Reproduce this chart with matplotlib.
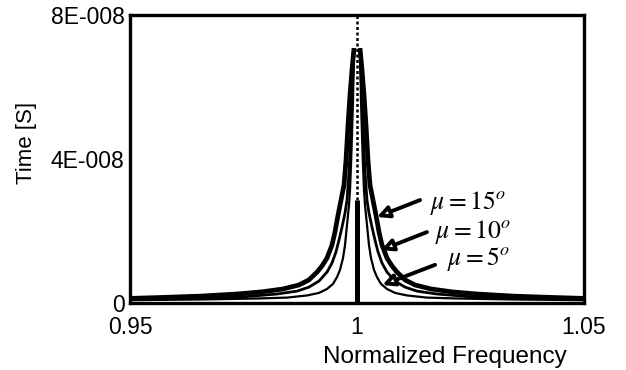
import numpy as np
import matplotlib
matplotlib.use('Agg')
import matplotlib.pyplot as plt

# offsets from f = 1 (one side, the curves are symmetric) and time values [s]
d_15 = [0.00066, 0.0011, 0.00154, 0.00198, 0.00242, 0.00286, 0.00352, 0.00418, 0.00485, 0.00551,
        0.0066, 0.0077, 0.0088, 0.0106, 0.0128, 0.0163, 0.0209, 0.0264, 0.0346, 0.044, 0.0507]
t_15 = [7.08e-8, 6.47e-8, 5.78e-8, 4.94e-8, 3.97e-8, 3.28e-8, 2.86e-8, 2.44e-8, 1.97e-8, 1.61e-8,
        1.25e-8, 1.03e-8, 0.86e-8, 0.64e-8, 0.50e-8, 0.39e-8, 0.31e-8, 0.25e-8, 0.19e-8, 0.15e-8, 0.125e-8]

d_10 = [0.00066, 0.00088, 0.0011, 0.00132, 0.00154, 0.00176, 0.0022, 0.00264, 0.0033, 0.00396,
        0.00463, 0.00551, 0.0066, 0.00837, 0.0106, 0.0132, 0.0176, 0.0242, 0.0346, 0.0507]
t_10 = [7.08e-8, 6.33e-8, 5.64e-8, 4.94e-8, 4.25e-8, 3.64e-8, 2.86e-8, 2.50e-8, 2.11e-8, 1.75e-8,
        1.42e-8, 1.11e-8, 0.86e-8, 0.61e-8, 0.44e-8, 0.33e-8, 0.25e-8, 0.18e-8, 0.14e-8, 0.097e-8]

d_5 = [0.00066, 0.00088, 0.0011, 0.00132, 0.00154, 0.00176, 0.0022, 0.00264, 0.00308, 0.00374,
       0.0044, 0.00529, 0.0066, 0.00837, 0.011, 0.0154, 0.022, 0.0346, 0.0507]
t_5 = [7.08e-8, 5.64e-8, 4.67e-8, 3.83e-8, 3.14e-8, 2.72e-8, 2.17e-8, 1.61e-8, 1.25e-8, 0.92e-8,
       0.72e-8, 0.53e-8, 0.39e-8, 0.28e-8, 0.21e-8, 0.15e-8, 0.125e-8, 0.097e-8, 0.078e-8]

# mu = 0 : singular line at f = 1
t_bar = 2.86e-8

x_ticks = [0.95, 1.0, 1.05]
x_ticklabels = ['0.95', '1', '1.05']
y_ticks = [0, 4e-8, 8e-8]
y_ticklabels = ['0', '4E-008', '8E-008']


def both_sides(d, t):
    d = np.asarray(d)
    t = np.asarray(t)
    x = np.concatenate([1 - d[::-1], [np.nan], 1 + d])
    y = np.concatenate([t[::-1], [np.nan], t])
    return x, y


plt.rcParams['font.family'] = ['Liberation Sans', 'DejaVu Sans']
plt.rcParams['mathtext.fontset'] = 'stix'

fig = plt.figure(figsize=(6.26, 3.70), dpi=100)
ax = fig.add_axes([130 / 626, 1 - 303 / 370, 454 / 626, 288 / 370])

for d, t, lw in [(d_5, t_5, 1.6), (d_10, t_10, 2.0), (d_15, t_15, 3.4)]:
    x, y = both_sides(d, t)
    ax.plot(x, y, color='black', lw=lw, solid_capstyle='butt', solid_joinstyle='round')

ax.plot([1, 1], [0, t_bar], color='black', lw=3.6, solid_capstyle='butt')
ax.plot([1, 1], [t_bar, 8e-8], color='black', lw=1.8, linestyle=(0, (1.2, 1.0)))

ax.set_xlim(0.95, 1.05)
ax.set_ylim(0, 8e-8)
ax.set_xticks(x_ticks)
ax.set_xticklabels(x_ticklabels)
ax.set_yticks(y_ticks)
ax.set_yticklabels(y_ticklabels)
ax.tick_params(direction='in', length=0, labelsize=16.5)
ax.tick_params(axis='x', pad=9)
ax.tick_params(axis='y', pad=4)
for s in ax.spines.values():
    s.set_linewidth(2.4)

ax.set_xlabel('Normalized Frequency', fontsize=17.5)
ax.xaxis.set_label_coords(0.694, -0.15)
ax.set_ylabel('Time [S]', fontsize=16)
ax.yaxis.set_label_coords(-0.205, 0.556)

# labels with arrows
notes = [
    (r'$\mu=15^o$', (1.0044, 2.39e-8), (1.0139, 2.86e-8), (1.0161, 2.78e-8)),
    (r'$\mu=10^o$', (1.0053, 1.47e-8), (1.0154, 1.97e-8), (1.0172, 1.97e-8)),
    (r'$\mu=5^o$', (1.0056, 0.50e-8), (1.0172, 1.06e-8), (1.0198, 1.22e-8)),
]
for txt, head, tail, pos in notes:
    ax.annotate('', xy=head, xytext=tail,
                arrowprops=dict(arrowstyle='-|>,head_length=0.7,head_width=0.35',
                                fc='white', ec='black', lw=2.8,
                                shrinkA=0, shrinkB=0))
    ax.text(pos[0], pos[1], txt, fontsize=18.5, ha='left', va='center')

fig.savefig('out.png', dpi=100)
